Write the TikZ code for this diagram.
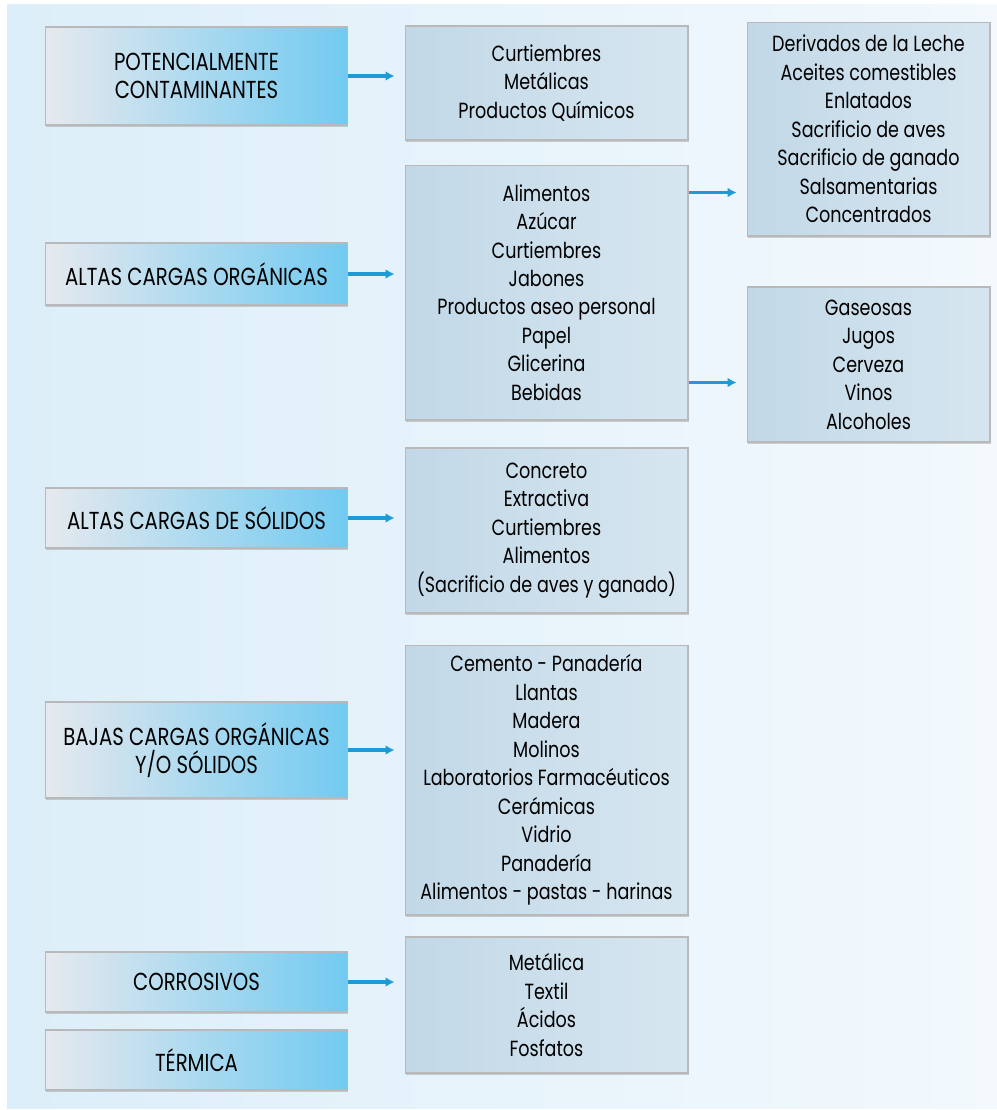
\documentclass[tikz,border=0pt]{standalone}
\usepackage{fontspec}
\setmainfont[FakeStretch=0.8]{Poppins}
\newfontfamily\catfont[FakeStretch=0.8]{Poppins}
\usetikzlibrary{arrows.meta,shadows}
\definecolor{bgleft}{HTML}{DCEEF9}
\definecolor{bgright}{HTML}{F3F9FD}
\definecolor{catgrey}{HTML}{E6E9EE}
\definecolor{catblue}{HTML}{72CAF0}
\definecolor{listA}{HTML}{C2D8E7}
\definecolor{listB}{HTML}{D6E6F0}
\definecolor{linkblue}{HTML}{1E9BD7}
\begin{document}
\begin{tikzpicture}[x=0.02cm, y=-0.02cm, font=\fontsize{12.5}{16.2}\selectfont, line join=miter,
    cat/.style={draw=gray!55, line width=0.6pt, left color=catgrey, right color=catblue, minimum width=6.04cm, align=center, inner sep=2pt, font=\catfont\fontsize{14}{16}\selectfont, drop shadow={shadow xshift=0.5pt, shadow yshift=-1pt, opacity=0.35}},
    list/.style={draw=gray!55, line width=0.6pt, left color=listA, right color=listB, align=center, inner sep=2pt, drop shadow={shadow xshift=0.5pt, shadow yshift=-1pt, opacity=0.35}},
    link/.style={draw=linkblue, line width=1.8pt, -{Latex[length=5pt,width=5.5pt]}, shorten >=0.2cm}]
    \useasboundingbox (0,0) rectangle (997,1110);
    \shade[left color=bgleft, right color=bgright] (7,4) rectangle (997,1108);
    % categories
    \node[cat, minimum height=1.96cm] (pot) at (196.5, 76) {POTENCIALMENTE\\CONTAMINANTES};
    \node[cat, minimum height=1.24cm] (org) at (196.5, 274) {ALTAS CARGAS ORGÁNICAS};
    \node[cat, minimum height=1.2cm] (sol) at (196.5, 518) {ALTAS CARGAS DE SÓLIDOS};
    \node[cat, minimum height=1.92cm] (baj) at (196.5, 750) {BAJAS CARGAS ORGÁNICAS\\Y/O SÓLIDOS};
    \node[cat, minimum height=1.2cm] (cor) at (196.5, 982) {CORROSIVOS};
    \node[cat, minimum height=1.2cm] (ter) at (196.5, 1060) {TÉRMICA};
    % industries
    \node[list, minimum width=5.66cm, minimum height=2.28cm] (potlist) at (546.5, 83) {Curtiembres\\Metálicas\\Productos Químicos};
    \node[list, minimum width=5.66cm, minimum height=5.1cm] (orglist) at (546.5, 292.5) {Alimentos\\Azúcar\\Curtiembres\\Jabones\\Productos aseo personal\\Papel\\Glicerina\\Bebidas};
    \node[list, minimum width=5.66cm, minimum height=3.3cm] (sollist) at (546.5, 530.5) {Concreto\\Extractiva\\Curtiembres\\Alimentos\\(Sacrificio de aves y ganado)};
    \node[list, minimum width=5.66cm, minimum height=5.4cm] (bajlist) at (546.5, 780) {Cemento - Panadería\\Llantas\\Madera\\Molinos\\Laboratorios Farmacéuticos\\Cerámicas\\Vidrio\\Panadería\\Alimentos - pastas - harinas};
    \node[list, minimum width=5.66cm, minimum height=2.72cm] (corlist) at (546.5, 1005) {Metálica\\Textil\\Ácidos\\Fosfatos};
    % subgroups
    \node[list, minimum width=4.86cm, minimum height=4.28cm] (alim) at (868.5, 129) {Derivados de la Leche\\Aceites comestibles\\Enlatados\\Sacrificio de aves\\Sacrificio de ganado\\Salsamentarias\\Concentrados};
    \node[list, minimum width=4.86cm, minimum height=3.1cm] (beb) at (868.5, 364.5) {Gaseosas\\Jugos\\Cerveza\\Vinos\\Alcoholes};
    % connectors
    \draw[link] (pot.east) -- (pot.east -| potlist.west);
    \draw[link] (org.east) -- (org.east -| orglist.west);
    \draw[link] (sol.east) -- (sol.east -| sollist.west);
    \draw[link] (baj.east) -- (baj.east -| bajlist.west);
    \draw[link] (cor.east) -- (cor.east -| corlist.west);
    \draw[link] ([yshift=-0.56cm]orglist.north east) -- ([yshift=-0.56cm]orglist.north east -| alim.west);
    \draw[link] ([yshift=0.76cm]orglist.south east) -- ([yshift=0.76cm]orglist.south east -| beb.west);
\end{tikzpicture}
\end{document}
